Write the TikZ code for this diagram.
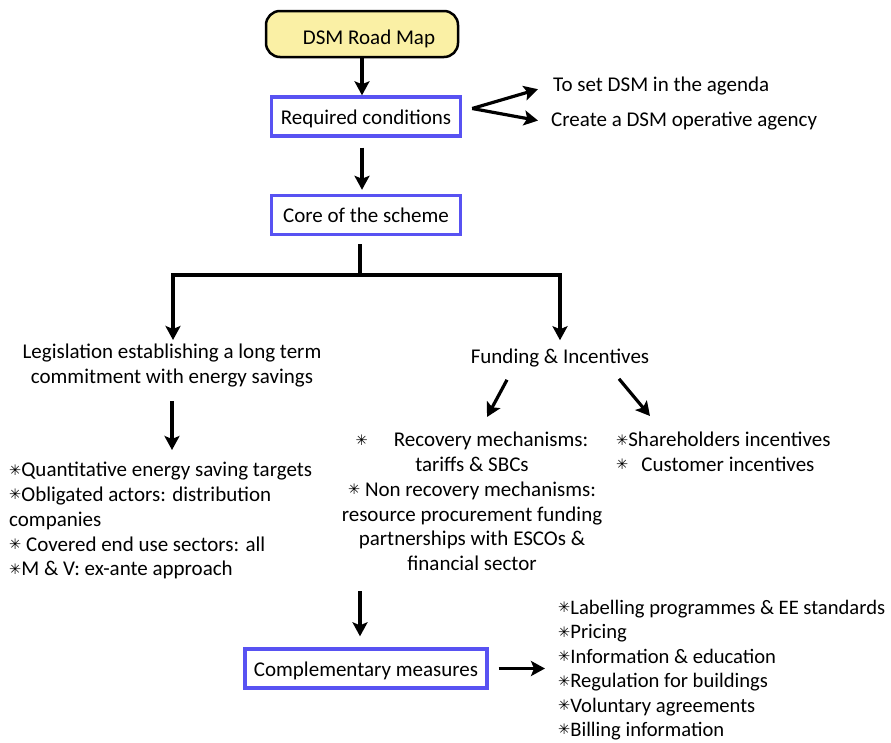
\documentclass[tikz,border=0pt]{standalone}
\usepackage{fontspec}
\setmainfont{Carlito}
\newfontfamily\symfont{DejaVu Sans}
\usetikzlibrary{arrows.meta}
\definecolor{boxblue}{RGB}{88,82,242}
\definecolor{roadyellow}{RGB}{250,240,165}
\newcommand\bul{{\symfont\fontsize{14.5}{12}\selectfont\raisebox{1.6pt}{✳}}}
\begin{document}
\begin{tikzpicture}[x=1pt,y=-1pt,
  txt/.style={inner sep=0pt, font=\fontsize{21}{24.8}\selectfont},
  bbox/.style={draw=boxblue, line width=3.4pt, fill=white, minimum width=189pt,
    minimum height=39pt, inner sep=0pt, text height=20pt, text depth=4.6pt,
    font=\fontsize{21}{24.8}\selectfont},
  arr/.style={line width=3.2pt, -{Stealth[length=14pt,width=15pt,inset=3pt]}},
  ln/.style={line width=3.2pt}]
\useasboundingbox (0,0) rectangle (891,742);
% boxes
\node[draw, line width=2.5pt, fill=roadyellow, rounded corners=14pt,
  minimum width=192pt, minimum height=46pt, inner sep=0pt,
  text height=24pt, text depth=3.6pt, font=\fontsize{21}{24.8}\selectfont]
  (road) at (362,34) {\hspace*{14pt}DSM Road Map};
\node[bbox] (req) at (366,116.5) {Required conditions};
\node[bbox] (core) at (366,215) {Core of the scheme};
\node[bbox, minimum width=242pt] (comp) at (366,668.5) {Complementary measures};
% texts
\node[txt, anchor=base west] (t1) at (553,91) {To set DSM in the agenda};
\node[txt, anchor=base west] (t2) at (551,126) {Create a DSM operative agency};
\node[txt, anchor=north, align=center] (leg) at (172,344)
  {Legislation establishing a long term\\commitment with energy savings};
\node[txt, anchor=base] (fund) at (560,363) {Funding \& Incentives};
\node[txt, anchor=north west, align=left] (leglist) at (9,462)
  {\bul Quantitative energy saving targets\\
   \bul Obligated actors: distribution\\
   companies\\
   \bul{} Covered end use sectors: all\\
   \bul M \& V: ex-ante approach};
\node[txt, anchor=north, align=center] (midlist) at (472,432)
  {\bul\hspace*{26pt}Recovery mechanisms:\\
   tariffs \& SBCs\\
   \bul{} Non recovery mechanisms:\\
   resource procurement funding\\
   partnerships with ESCOs \&\\
   financial sector};
\node[txt, anchor=north west, align=left] (shlist) at (616,432)
  {\bul Shareholders incentives\\
   \bul\hspace*{13pt}Customer incentives};
\node[txt, anchor=north west, align=left,
  font=\fontsize{20.6}{24.4}\selectfont] (comlist) at (558,600)
  {\bul Labelling programmes \& EE standards\\
   \bul Pricing\\
   \bul Information \& education\\
   \bul Regulation for buildings\\
   \bul Voluntary agreements\\
   \bul Billing information};
% connectors
\coordinate (bj) at (360,275);
\coordinate (bl) at (173,275);
\coordinate (br) at (560,275);
\draw[arr] (road.south) -- (road.south |- req.north);
\draw[arr] ([xshift=-4pt,yshift=-10pt]req.south) -- ([xshift=-4pt,yshift=4pt]core.north);
\draw[arr] ([xshift=10pt,yshift=8pt]req.east) -- ([xshift=-15pt,yshift=-3.7pt]t1.west);
\draw[arr] ([xshift=10pt,yshift=8pt]req.east) -- ([xshift=-13pt]t2.west);
\draw[ln] ([xshift=-6pt,yshift=-8pt]core.south) -- (bj);
\draw[ln, line cap=rect] (bl) -- (br);
\draw[arr, shorten >=4pt] (bl) -- (bl |- leg.north);
\draw[arr, shorten >=8pt] (br) -- (br |- fund.north);
\draw[arr, shorten <=14pt, shorten >=12pt] (leg.south) -- (leg.south |- leglist.north);
\draw[arr] ([xshift=-53pt,yshift=-13pt]fund.south) -- ([xshift=15pt,yshift=15pt]midlist.north);
\draw[arr] ([xshift=59pt,yshift=-12pt]fund.south) -- ([xshift=34pt,yshift=16pt]shlist.north west);
\draw[arr] ([xshift=-6pt,yshift=56pt]comp.north) -- ([xshift=-6pt,yshift=11pt]comp.north);
\draw[arr] ([xshift=10pt]comp.east) -- ([xshift=-13pt]comlist.west |- comp.east);
\end{tikzpicture}
\end{document}
